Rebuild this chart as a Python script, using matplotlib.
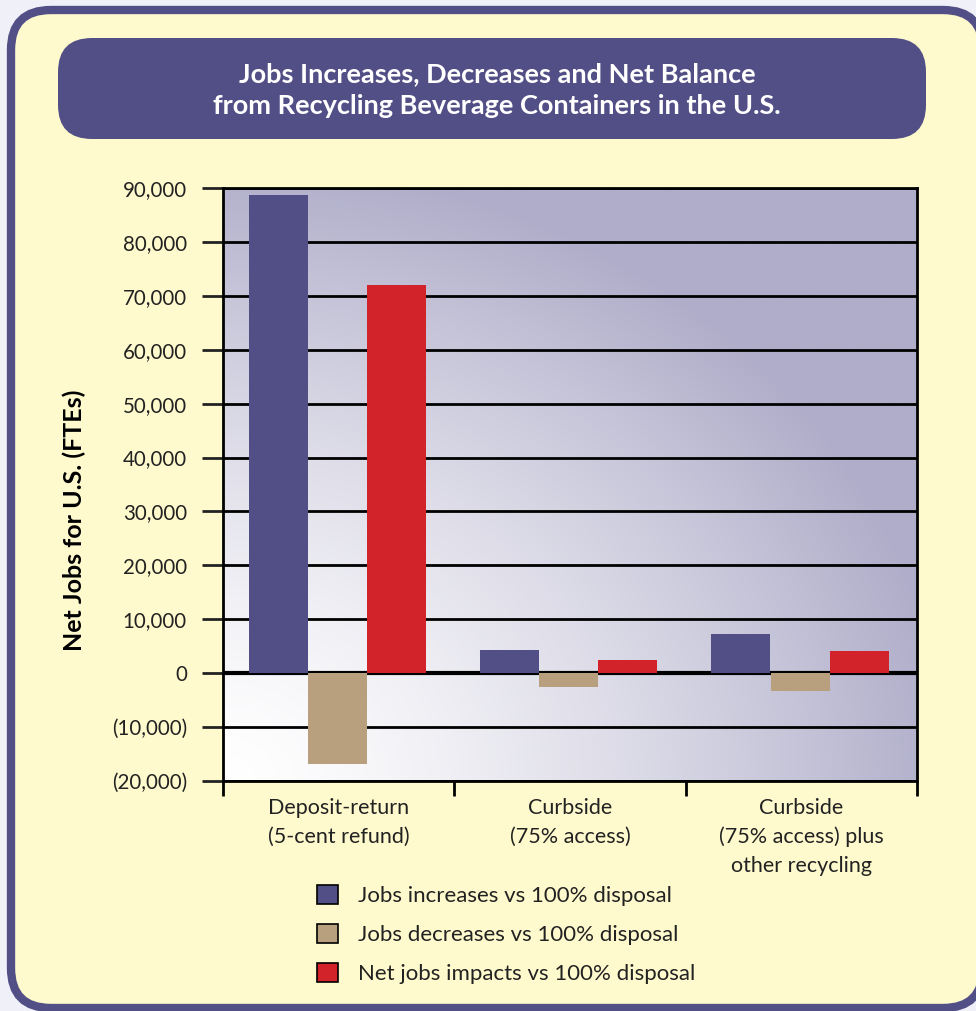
import numpy as np
import matplotlib.pyplot as plt
from matplotlib.patches import FancyBboxPatch
from matplotlib.ticker import FuncFormatter

plt.rcParams['font.family'] = ['Lato', 'DejaVu Sans']

# data (FTEs)
categories = ['Deposit-return\n(5-cent refund)', 'Curbside\n(75% access)',
              'Curbside\n(75% access) plus\nother recycling']
increases = [88700, 4300, 7200]
decreases = [-16800, -2500, -3300]
net_jobs = [72000, 2400, 4100]
series_names = ['Jobs increases vs 100% disposal',
                'Jobs decreases vs 100% disposal',
                'Net jobs impacts vs 100% disposal']
y_ticks = [-20000, -10000, 0, 10000, 20000, 30000, 40000, 50000, 60000, 70000, 80000, 90000]

purple = '#524F86'
yellow = '#FFFACD'
colors = ['#524F86', '#B89F7E', '#D2232A']

W, H = 976, 1011
fig = plt.figure(figsize=(W / 100, H / 100), dpi=100, facecolor='#F0F0F8')

# background frame drawn in pixel coordinates
bg = fig.add_axes([0, 0, 1, 1], zorder=0)
bg.set_xlim(0, W)
bg.set_ylim(H, 0)
bg.axis('off')
bg.add_patch(FancyBboxPatch((11, 10), 972, 998, boxstyle='round,pad=0,rounding_size=40',
                            facecolor=yellow, edgecolor=purple, linewidth=6))
bg.add_patch(FancyBboxPatch((58, 38), 868, 101, boxstyle='round,pad=0,rounding_size=34',
                            facecolor=purple, edgecolor='none'))
bg.text(497, 90, 'Jobs Increases, Decreases and Net Balance\nfrom Recycling Beverage Containers in the U.S.',
        ha='center', va='center', color='white', fontsize=19.5, fontweight='bold',
        linespacing=1.4)

ax = fig.add_axes([223 / W, 1 - 781 / H, 694 / W, 593 / H], zorder=1)

# gradient plot background: white at bottom-left to lavender at top-right
gx, gy = np.meshgrid(np.linspace(0, 1, 300), np.linspace(0, 1, 300))
r = np.clip(np.sqrt(gx ** 2 + gy ** 2) / 1.05, 0, 1) ** 1.4
c0 = np.array([1.0, 1.0, 1.0])
c1 = np.array([0xAF, 0xAD, 0xC9]) / 255
img = c0 + (c1 - c0) * r[..., None]
ax.imshow(img, extent=[0, 1, 0, 1], transform=ax.transAxes, origin='lower',
          aspect='auto', zorder=0)

x = np.arange(len(categories)) + 0.5
width = 0.255
offsets = [-0.262, -0.005, 0.25]
bars = []
for vals, off, col, name in zip([increases, decreases, net_jobs], offsets, colors, series_names):
    bars.append(ax.bar(x + off, vals, width, color=col, label=name, zorder=3))

ax.set_xlim(0, 3)
ax.set_ylim(-20000, 90000)
ax.set_yticks(y_ticks)
ax.yaxis.set_major_formatter(FuncFormatter(
    lambda v, p: '0' if v == 0 else (f'({abs(v):,.0f})' if v < 0 else f'{v:,.0f}')))
for yv in y_ticks:
    ax.axhline(yv, color='black', lw=3 if yv == 0 else 2, zorder=2)
ax.tick_params(axis='y', length=15, width=2, pad=11, labelsize=14.8, colors='#222222')
for t in ax.get_yticklines():
    t.set_color('black')

ax.set_xticks([0, 1, 2, 3])
ax.set_xticklabels([])
ax.set_xticks(x, minor=True)
ax.set_xticklabels(categories, minor=True, fontsize=15.5, linespacing=1.55, color='#222222')
ax.tick_params(axis='x', which='major', length=11, width=2, color='black')
ax.tick_params(axis='x', which='minor', length=0, pad=12)

for s in ax.spines.values():
    s.set_color('black')
    s.set_linewidth(2)
    s.set_zorder(4)

ax.set_ylabel('Net Jobs for U.S. (FTEs)', fontsize=18, fontweight='bold')
ax.yaxis.set_label_coords(-0.198, 0.44)

leg = fig.legend(handles=bars, labels=series_names, loc='upper left',
                 bbox_to_anchor=(297 / W, 1 - 865 / H), frameon=False, fontsize=16,
                 handlelength=0.95, handleheight=0.95, labelspacing=0.8, handletextpad=0.9)
for h in leg.legend_handles:
    h.set_edgecolor('black')
    h.set_linewidth(1.2)
for t in leg.get_texts():
    t.set_color('#222222')

fig.savefig('out.png', dpi=100, facecolor=fig.get_facecolor())
